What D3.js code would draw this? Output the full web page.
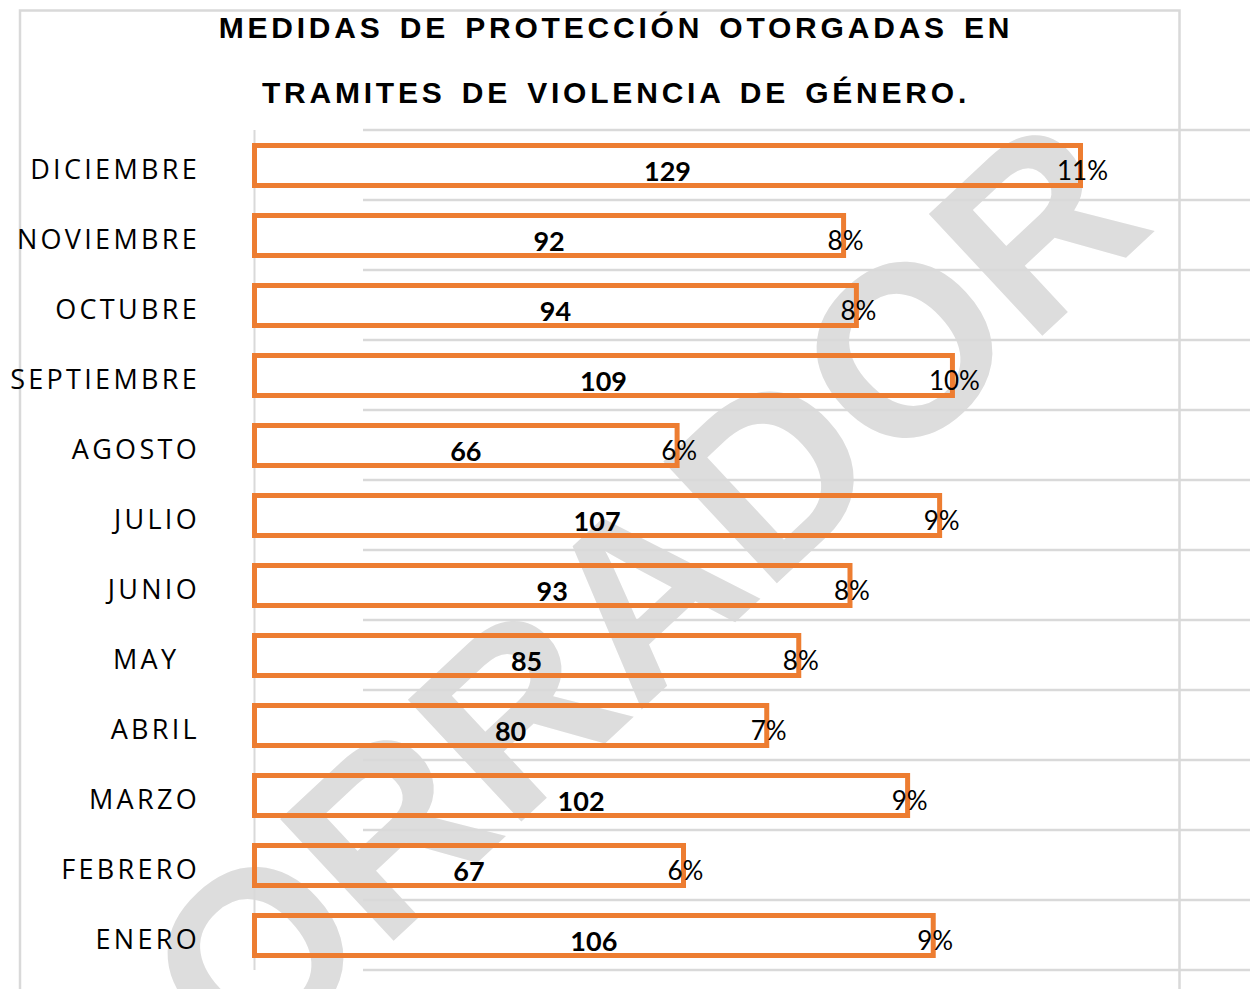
<!DOCTYPE html>
<html>
<head>
<meta charset="utf-8">
<script src="https://cdn.jsdelivr.net/npm/d3@7"></script>
<style>
  body { margin: 0; background: #fff; }
  text { white-space: pre; }
</style>
</head>
<body>
<div id="chart"></div>
<script>
// data, top to bottom as in the picture
const months = ["DICIEMBRE", "NOVIEMBRE", "OCTUBRE", "SEPTIEMBRE", "AGOSTO", "JULIO",
  "JUNIO", "MAY  ", "ABRIL", "MARZO", "FEBRERO", "ENERO"];
const values = [129, 92, 94, 109, 66, 107, 93, 85, 80, 102, 67, 106];
const pctLabels = ["11%", "8%", "8%", "10%", "6%", "9%", "8%", "8%", "7%", "9%", "6%", "9%"];
const titleLines = ["MEDIDAS DE PROTECCIÓN OTORGADAS EN", "TRAMITES DE VIOLENCIA DE GÉNERO."];
const watermark = "BORRADOR";

const width = 1250;
const height = 989;
const orange = "#ED7D31";
const gridColor = "#d9d9d9";

const rows = months.map((m, i) => ({month: m, value: values[i], pct: pctLabels[i]}));

const svg = d3.select("#chart").append("svg")
  .attr("width", width)
  .attr("height", height)
  .style("display", "block");

svg.append("rect")
  .attr("width", width)
  .attr("height", height)
  .attr("fill", "#fff");

// scales
const x = d3.scaleLinear()
  .domain([0, 129])
  .range([254.5, 1080.5]);

const y = d3.scaleBand()
  .domain(months)
  .range([130, 970]);

const barH = 40;

// watermark behind everything
svg.append("text")
  .attr("transform", "translate(580,652) rotate(-43)")
  .attr("text-anchor", "middle")
  .attr("dominant-baseline", "central")
  .style("font-family", "'Liberation Sans', Arial, sans-serif")
  .style("font-weight", "bold")
  .style("font-size", "242px")
  .attr("fill", "#dddddd")
  .text(watermark);

// outer frame
svg.append("path")
  .attr("d", `M20,${height} V10.5 H1179.5 V${height}`)
  .attr("fill", "none")
  .attr("stroke", gridColor)
  .attr("stroke-width", 2.5);

// horizontal grid lines
const gridYs = months.map(m => y(m)).concat([y.range()[1]]);
svg.append("g")
  .selectAll("line")
  .data(gridYs)
  .join("line")
  .attr("x1", 363)
  .attr("x2", width)
  .attr("y1", d => d)
  .attr("y2", d => d)
  .attr("stroke", gridColor)
  .attr("stroke-width", 2.5);

// category axis line
svg.append("line")
  .attr("x1", 254.5)
  .attr("x2", 254.5)
  .attr("y1", y.range()[0])
  .attr("y2", y.range()[1])
  .attr("stroke", gridColor)
  .attr("stroke-width", 2);

// title
svg.append("g")
  .selectAll("text")
  .data(titleLines)
  .join("text")
  .attr("x", 616)
  .attr("y", (d, i) => 38 + i * 65)
  .attr("text-anchor", "middle")
  .style("font-family", "'Liberation Sans', Arial, sans-serif")
  .style("font-weight", "bold")
  .style("font-size", "30px")
  .style("letter-spacing", "3.8px")
  .style("word-spacing", "4px")
  .attr("fill", "#000")
  .text(d => d);

// bars (outline only)
svg.append("g")
  .selectAll("rect")
  .data(rows)
  .join("rect")
  .attr("x", x(0))
  .attr("y", d => y(d.month) + (y.bandwidth() - barH) / 2 + 0.5)
  .attr("width", d => x(d.value) - x(0))
  .attr("height", barH)
  .attr("fill", "none")
  .attr("stroke", orange)
  .attr("stroke-width", 5);

// category labels
svg.append("g")
  .selectAll("text")
  .data(rows)
  .join("text")
  .attr("x", 200)
  .attr("y", d => y(d.month) + y.bandwidth() / 2 + 14)
  .attr("text-anchor", "end")
  .style("font-family", "'Open Sans', sans-serif")
  .style("font-size", "27px")
  .style("letter-spacing", "3.3px")
  .attr("fill", "#000")
  .text(d => d.month);

// value labels in bar centre
svg.append("g")
  .selectAll("text")
  .data(rows)
  .join("text")
  .attr("x", d => (x(0) + x(d.value)) / 2)
  .attr("y", d => y(d.month) + y.bandwidth() / 2 + 16)
  .attr("text-anchor", "middle")
  .style("font-family", "Lato, sans-serif")
  .style("font-weight", "bold")
  .style("font-size", "27px")
  .attr("fill", "#000")
  .text(d => d.value);

// percentage labels at bar end
svg.append("g")
  .selectAll("text")
  .data(rows)
  .join("text")
  .attr("x", d => x(d.value) + 2)
  .attr("y", d => y(d.month) + y.bandwidth() / 2 + 15)
  .attr("text-anchor", "middle")
  .style("font-family", "Lato, sans-serif")
  .style("font-size", "26px")
  .attr("fill", "#000")
  .text(d => d.pct);
</script>
</body>
</html>
